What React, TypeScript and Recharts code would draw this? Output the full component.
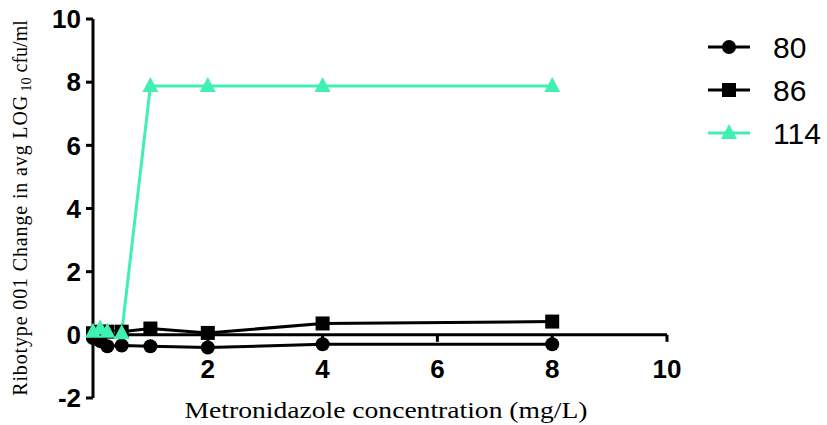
import { LineChart, Line, XAxis, YAxis, ReferenceLine, Label } from 'recharts';

// metronidazole concentration (mg/L)
const concentrations = [0, 0.125, 0.25, 0.5, 1, 2, 4, 8];

// change in avg LOG10 cfu/ml per ribotype
const ribotype80 = [-0.1, -0.2, -0.36, -0.34, -0.36, -0.4, -0.3, -0.3];
const ribotype86 = [0.05, 0.1, 0.1, 0.1, 0.2, 0.06, 0.36, 0.42];
const ribotype114 = [0.1, 0.2, 0.1, 0.05, 7.88, 7.88, 7.88, 7.88];

const xTicks = [0, 2, 4, 6, 8, 10];
const yTicks = [-2, 0, 2, 4, 6, 8, 10];

const TEAL = '#40F0B0';

const data = concentrations.map((c, i) => ({
  conc: c,
  r80: ribotype80[i],
  r86: ribotype86[i],
  r114: ribotype114[i],
}));

const W = 827;
const H = 425;
const X_AXIS_H = 27;
const margin = { top: 19, right: 160, bottom: 0, left: 0 };
const Y_AXIS_W = 93;
const plotH = H - margin.top - margin.bottom - X_AXIS_H;
const yMin = -2;
const yMax = 10;
// distance from the bottom of the plot up to the y = 0 line
const zeroLift = ((0 - yMin) / (yMax - yMin)) * plotH;

const TICK_FONT = "'Liberation Sans', Arial, sans-serif";
const SERIF_FONT = "'Liberation Serif', 'Times New Roman', serif";

const CircleDot = (props: any) => {
  const { cx, cy, stroke } = props;
  if (cx == null || cy == null) return null;
  return <circle cx={cx} cy={cy} r={7} fill={stroke} />;
};

const SquareDot = (props: any) => {
  const { cx, cy, stroke } = props;
  if (cx == null || cy == null) return null;
  return <rect x={cx - 7} y={cy - 7} width={14} height={14} fill={stroke} />;
};

const TriangleDot = (props: any) => {
  const { cx, cy, stroke } = props;
  if (cx == null || cy == null) return null;
  return <polygon points={`${cx},${cy - 9} ${cx - 8},${cy + 6} ${cx + 8},${cy + 6}`} fill={stroke} />;
};

// x ticks sit on the y = 0 line, not at the bottom of the plot
const XTick = (props: any) => {
  const { x, payload } = props;
  if (payload.value === 0) return null;
  const y0 = margin.top + plotH - zeroLift;
  return (
    <g>
      <line x1={x} x2={x} y1={y0} y2={y0 + 7} stroke="#000" strokeWidth={3} />
      <text
        x={x}
        y={y0 + 43}
        textAnchor="middle"
        fontFamily={TICK_FONT}
        fontWeight="bold"
        fontSize={26}
        fill="#000"
      >
        {payload.value}
      </text>
    </g>
  );
};

const YLabel = () => (
  <text
    transform="translate(27, 208) rotate(-90)"
    textAnchor="middle"
    fontFamily={SERIF_FONT}
    fontSize={20}
    fill="#000"
  >
    <tspan textLength={300} lengthAdjust="spacing">Ribotype 001 Change in  avg LOG</tspan>
    <tspan fontSize={14} dy={4}> 10</tspan>
    <tspan dy={-4}> cfu/ml</tspan>
  </text>
);

const XLabel = () => (
  <text
    x={386}
    y={418}
    textAnchor="middle"
    fontFamily={SERIF_FONT}
    fontSize={24}
    textLength={403}
    lengthAdjust="spacingAndGlyphs"
    fill="#000"
  >
    Metronidazole concentration (mg/L)
  </text>
);

const legendItems = [
  { label: '80', color: '#000', Marker: CircleDot },
  { label: '86', color: '#000', Marker: SquareDot },
  { label: '114', color: TEAL, Marker: TriangleDot },
];

const LegendBox = () => (
  <svg width={130} height={130} style={{ position: 'absolute', left: 700, top: 20 }}>
    {legendItems.map((item, i) => {
      const cy = 27 + i * 43;
      return (
        <g key={item.label}>
          <line x1={8} x2={50} y1={cy} y2={cy} stroke={item.color} strokeWidth={3} />
          <item.Marker cx={29} cy={cy} stroke={item.color} />
          <text x={73} y={cy + 11} fontFamily={TICK_FONT} fontSize={30} fill="#000">
            {item.label}
          </text>
        </g>
      );
    })}
  </svg>
);

export default function App() {
  return (
    <div style={{ position: 'absolute', left: 0, top: 0, width: W, height: H, background: '#fff' }}>
      <LineChart width={W} height={H} data={data} margin={margin}>
        <XAxis
          dataKey="conc"
          type="number"
          domain={[0, 10]}
          ticks={xTicks}
          axisLine={false}
          tickLine={false}
          tick={<XTick />}
          interval={0}
          height={X_AXIS_H}
        >
          <Label content={<XLabel />} />
        </XAxis>
        <YAxis
          type="number"
          domain={[yMin, yMax]}
          ticks={yTicks}
          width={Y_AXIS_W}
          interval={0}
          axisLine={{ stroke: '#000', strokeWidth: 3 }}
          tickLine={{ stroke: '#000', strokeWidth: 3 }}
          tickSize={7}
          tick={{
            fill: '#000',
            fontSize: 26,
            fontWeight: 'bold',
            fontFamily: TICK_FONT,
            dx: -3,
          }}
        >
          <Label content={<YLabel />} />
        </YAxis>
        <ReferenceLine y={0} stroke="#000" strokeWidth={3} />
        <Line
          dataKey="r80"
          stroke="#000"
          strokeWidth={3}
          dot={<CircleDot />}
          isAnimationActive={false}
        />
        <Line
          dataKey="r86"
          stroke="#000"
          strokeWidth={3}
          dot={<SquareDot />}
          isAnimationActive={false}
        />
        <Line
          dataKey="r114"
          stroke={TEAL}
          strokeWidth={3}
          dot={<TriangleDot />}
          isAnimationActive={false}
        />
      </LineChart>
      <LegendBox />
    </div>
  );
}
